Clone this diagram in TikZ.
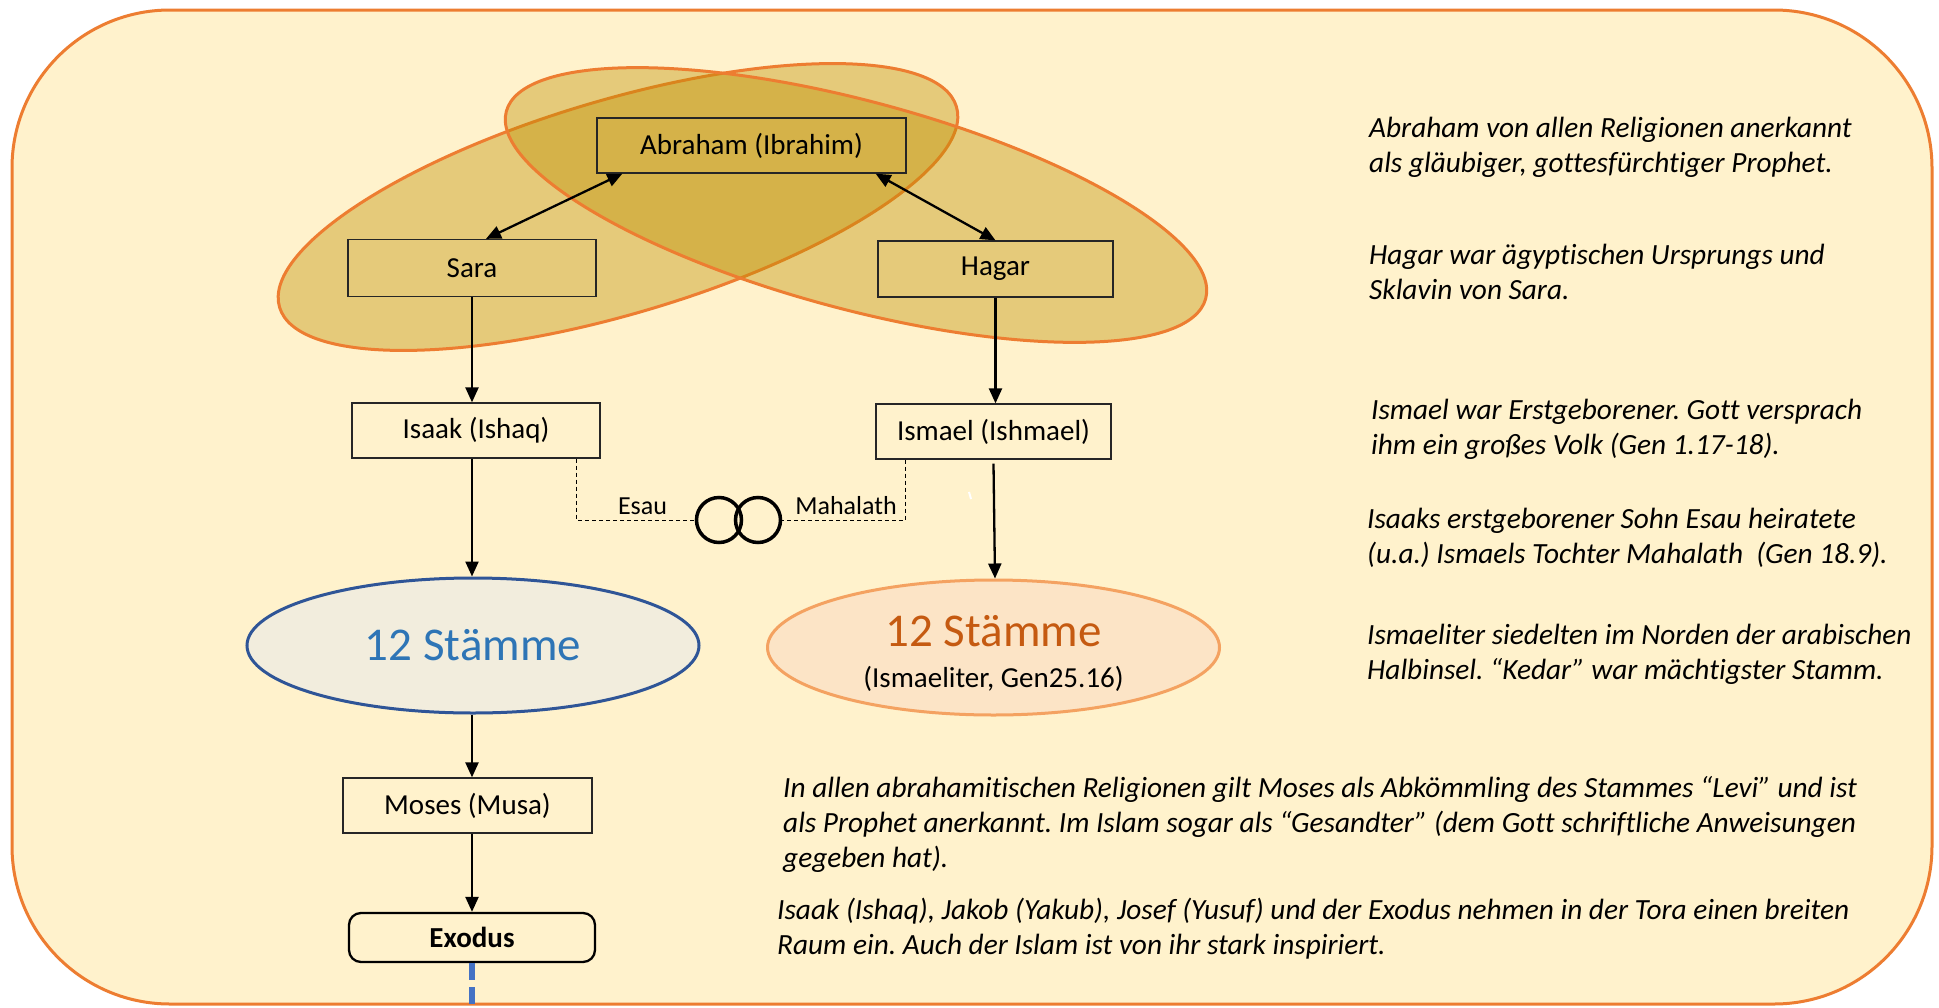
\documentclass[tikz,border=0pt]{standalone}
\usepackage{fontspec}
\setmainfont{Carlito}[Ligatures=NoCommon]
\usetikzlibrary{shapes.geometric,arrows.meta,calc}
\definecolor{panel}{HTML}{FFF2CC}
\definecolor{panelline}{HTML}{ED7D31}
\definecolor{gold}{HTML}{BF9000}
\definecolor{boxline}{HTML}{262626}
\definecolor{tribeblue}{HTML}{2F5597}
\definecolor{tribebluefill}{HTML}{F2EDDD}
\definecolor{tribebluetext}{HTML}{2E75B6}
\definecolor{tribeorange}{HTML}{F4A261}
\definecolor{tribeorangefill}{HTML}{FCE4C6}
\definecolor{tribeorangetext}{HTML}{C55A11}
\definecolor{timeline}{HTML}{4472C4}
\frenchspacing
\begin{document}
\begin{tikzpicture}[x=1pt,y=-1pt,
  person/.style={draw=boxline,line width=1.3pt,minimum height=55pt,inner sep=0pt,
    font=\fontsize{29}{35}\selectfont},
  arr/.style={line width=2.3pt,-{Triangle[length=15pt,width=13pt]}},
  biarr/.style={line width=2.3pt,{Triangle[length=15pt,width=13pt]}-{Triangle[length=15pt,width=13pt]}},
  marriage/.style={line width=1pt,dash pattern=on 4pt off 3pt},
  ring/.style={circle,draw=black,line width=3.5pt,minimum size=45pt,inner sep=0pt},
  family/.style={draw=panelline,line width=3pt,fill=gold,fill opacity=0.4},
  tribe/.style={ellipse,line width=3pt,minimum width=452pt,minimum height=135pt,inner sep=0pt},
  note/.style={anchor=base west,inner sep=0pt,font=\fontsize{29.3}{35}\selectfont\itshape},
  small/.style={anchor=base,inner sep=0pt,font=\fontsize{26}{31}\selectfont}]

% page and panel
\fill[white] (0,0) rectangle (1939,1007);
\useasboundingbox (0,0) rectangle (1939,1007);
\draw[draw=panelline,line width=3pt,fill=panel,rounded corners=158pt] (12,10) rectangle (1932,1004);

% the two households of Abraham
\path[family,rotate around={16.5:(618,207)}] (618,207) ellipse [x radius=353, y radius=107];
\path[family,rotate around={-15:(856,205)}] (856,205) ellipse [x radius=362, y radius=104];

% persons
\node[person,minimum width=309pt] (abr) at (751.5,145.5) {Abraham (Ibrahim)};
\node[person,minimum width=248pt,minimum height=57pt] (sara) at (472,268) {Sara};
\node[person,minimum width=235pt,minimum height=56pt] (hagar) at (995.5,269) {Hagar};
\node[person,fill=panel,minimum width=248pt] (isaak) at (476,430.5) {Isaak (Ishaq)};
\node[person,fill=panel,minimum width=235pt] (ismael) at (993.5,431.5) {Ismael (Ishmael)};
\node[person,fill=panel,minimum width=249pt] (moses) at (467.5,805.5) {Moses (Musa)};
\node[draw=black,line width=2.3pt,rounded corners=12pt,minimum width=246pt,minimum height=49pt,
  inner sep=0pt,font=\fontsize{29}{35}\selectfont\bfseries] (exodus) at (472,937.5) {Exodus};

% tribes
\node[tribe,draw=tribeblue,fill=tribebluefill,text=tribebluetext,font=\fontsize{47}{56}\selectfont]
  (isst) at (473,645.5) {12 Stämme};
\node[tribe,draw=tribeorange,fill=tribeorangefill] (ismst) at (993.5,647.5) {};
\node[anchor=base,inner sep=0pt,text=tribeorangetext,font=\fontsize{47}{56}\selectfont]
  (ismst-name) at (993.5,646) {12 Stämme};
\node[anchor=base,inner sep=0pt,font=\fontsize{29}{35}\selectfont]
  (ismst-ref) at (993.5,687) {(Ismaeliter, Gen25.16)};

% marriage of Esau and Mahalath
\node[ring] (ringL) at (719,520) {};
\node[ring] (ringR) at (758,520) {};
\draw[marriage] ($(isaak.south east)+(-24,0)$) |- (ringL.west);
\draw[marriage] ($(ismael.south west)+(30,0)$) |- (ringR.east);
\node[small] (esau) at (642.5,514) {Esau};
\node[small] (mahalath) at (846,514) {Mahalath};

% descent
\draw[biarr] ($(abr.south west)+(26,0)$) -- ($(sara.north)+(14,0)$);
\draw[biarr] ($(abr.south east)+(-31,0)$) -- (hagar.north);
\draw[arr] (sara.south) -- (sara.south |- isaak.north);
\draw[arr] (hagar.south) -- (hagar.south |- ismael.north);
\draw[arr] (sara.south |- isaak.south) -- (sara.south |- isst.north);
\draw[arr] ($(ismael.south)+(0,4)$) -- ($(ismst.north)+(1.5,0)$);
\draw[arr] (sara.south |- isst.south) -- (sara.south |- moses.north);
\draw[arr] (exodus.north |- moses.south) -- (exodus.north);
\draw[white,line width=2pt] (969,492) -- (971,499);

% timeline continues below
\coordinate (timeend) at (472,1004);
\draw[timeline,line width=6pt,dash pattern=on 17pt off 7pt] (exodus.south) -- (timeend);

% notes
\node[note] (n1) at (1369,137) {\vtop{\hbox{Abraham von allen Religionen anerkannt}\hbox{als gläubiger, gottesfürchtiger Prophet.}}};
\node[note] (n2) at (1369,264) {\vtop{\hbox{Hagar war ägyptischen Ursprungs und}\hbox{Sklavin von Sara.}}};
\node[note] (n3) at (1371,419) {\vtop{\hbox{Ismael war Erstgeborener. Gott versprach}\hbox{ihm ein großes Volk (Gen 1.17-18).}}};
\node[note] (n4) at (1367,528) {\vtop{\hbox{Isaaks erstgeborener Sohn Esau heiratete}\hbox{(u.a.) Ismaels Tochter Mahalath\ \ (Gen 18.9).}}};
\node[note] (n5) at (1367,644) {\vtop{\hbox{Ismaeliter siedelten im Norden der arabischen}\hbox{Halbinsel. “Kedar” war mächtigster Stamm.}}};
\node[note] (n6) at (783,797) {\vtop{\hbox{In allen abrahamitischen Religionen gilt Moses als Abkömmling des Stammes “Levi” und ist}\hbox{als Prophet anerkannt. Im Islam sogar als “Gesandter” (dem Gott schriftliche Anweisungen}\hbox{gegeben hat).}}};
\node[note] (n7) at (777,919) {\vtop{\hbox{Isaak (Ishaq), Jakob (Yakub), Josef (Yusuf) und der Exodus nehmen in der Tora einen breiten}\hbox{Raum ein. Auch der Islam ist von ihr stark inspiriert.}}};
\end{tikzpicture}
\end{document}
